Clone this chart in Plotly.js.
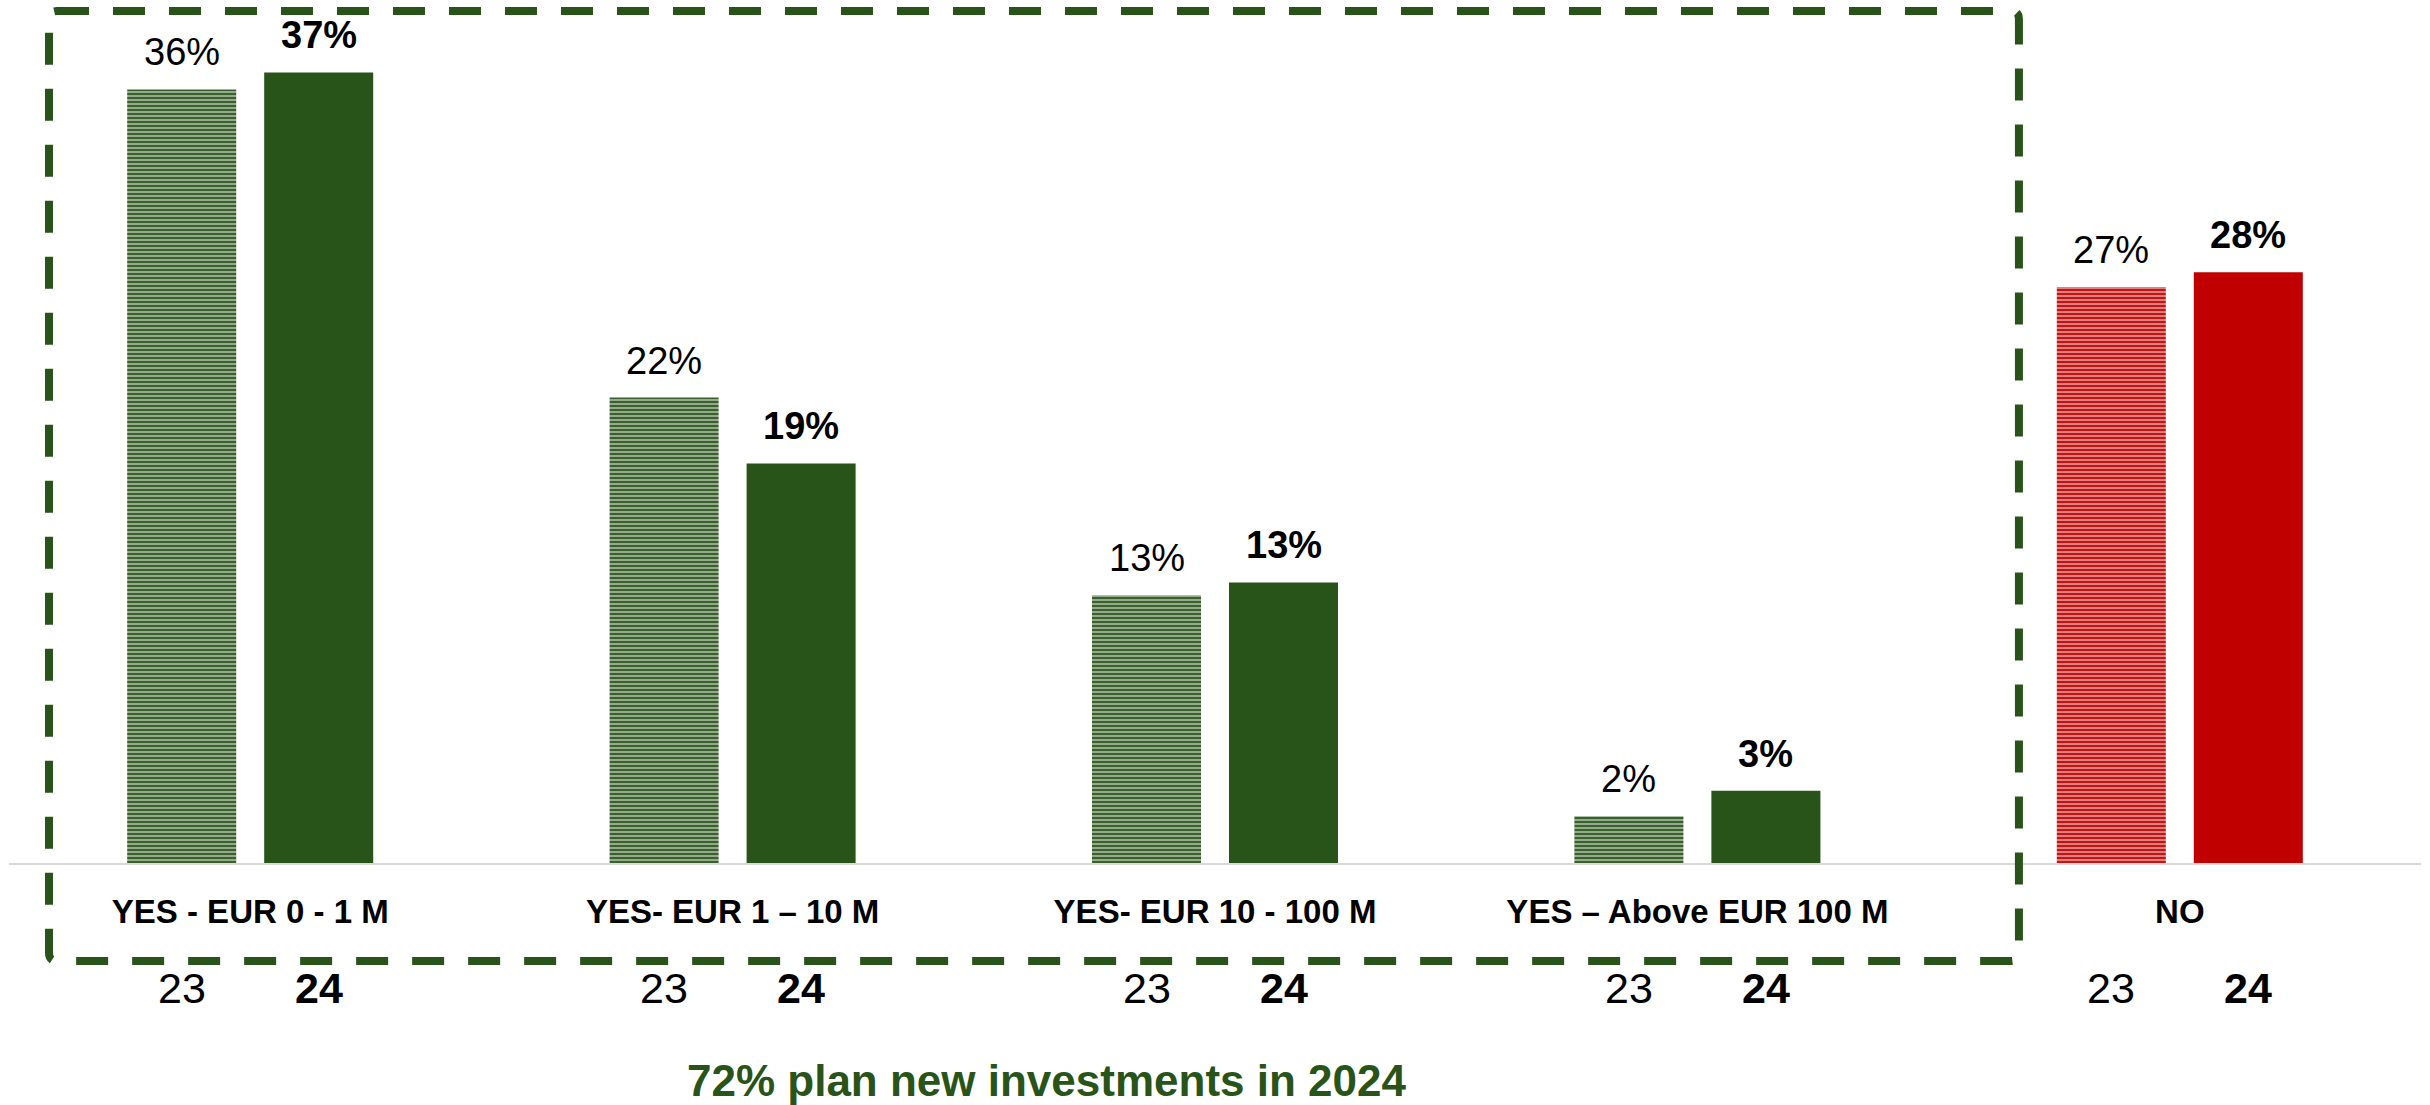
<!DOCTYPE html>
<html>
<head>
<meta charset="utf-8">
<script src="https://cdn.plot.ly/plotly-3.0.1.min.js"></script>
<style>html,body{margin:0;padding:0;background:#fff;}#chart{width:2430px;height:1105px;}</style>
</head>
<body>
<div id="chart"></div>
<script>
// ---- data ----
const categories = ['YES - EUR 0 - 1 M', 'YES- EUR 1 – 10 M', 'YES- EUR 10 - 100 M', 'YES – Above EUR 100 M', 'NO'];
const values2023 = [36.4, 21.9, 12.6, 2.2, 27.1];
const values2024 = [37.2, 18.8, 13.2, 3.4, 27.8];
const yearLabels = ['23', '24'];
const footnote = '72% plan new investments in 2024';

// ---- style ----
const GREEN = '#295419';
const RED = '#C00000';
const FONT = 'Liberation Sans, Arial, sans-serif';
const barColors = categories.map(c => c === 'NO' ? RED : GREEN);
const xIdx = categories.map((c, i) => i);
const W = 0.226, OFF23 = -0.255, OFF24 = 0.029;

const traces = [
  {
    type: 'bar', name: '2023', x: xIdx, y: values2023,
    offset: OFF23, width: W,
    marker: {
      color: barColors, line: {width: 0},
      pattern: {shape: '-', fgcolor: barColors, bgcolor: '#ffffff', size: 4, solidity: 0.58, fillmode: 'overlay'}
    },
    hoverinfo: 'skip'
  },
  {
    type: 'bar', name: '2024', x: xIdx, y: values2024,
    offset: OFF24, width: W,
    marker: {color: barColors, line: {width: 0}},
    hoverinfo: 'skip'
  }
];

const annotations = [];
xIdx.forEach(i => {
  const c23 = i + OFF23 + W / 2, c24 = i + OFF24 + W / 2;
  annotations.push({x: c23, y: values2023[i], xref: 'x', yref: 'y', yanchor: 'bottom', yshift: 14, showarrow: false,
    text: Math.round(values2023[i]) + '%', font: {family: FONT, size: 38, color: '#000'}});
  annotations.push({x: c24, y: values2024[i], xref: 'x', yref: 'y', yanchor: 'bottom', yshift: 14, showarrow: false,
    text: '<b>' + Math.round(values2024[i]) + '%</b>', font: {family: FONT, size: 38, color: '#000'}});
  annotations.push({x: c23, y: 0, xref: 'x', yref: 'paper', yanchor: 'middle', yshift: -125, showarrow: false,
    text: yearLabels[0], font: {family: FONT, size: 43, color: '#000'}});
  annotations.push({x: c24, y: 0, xref: 'x', yref: 'paper', yanchor: 'middle', yshift: -125, showarrow: false,
    text: '<b>' + yearLabels[1] + '</b>', font: {family: FONT, size: 43, color: '#000'}});
});
annotations.push({x: 0.43, y: 0, xref: 'paper', yref: 'paper', yanchor: 'middle', yshift: -217, showarrow: false,
  text: '<b>' + footnote + '</b>', font: {family: FONT, size: 44, color: GREEN}});

// rounded dashed box (paper coords)
const bx0 = 0.01658, bx1 = 0.8333, by0 = -0.1149, by1 = 0.9988, rx = 8 / 2412, ry = 8 / 853;
const boxPath = `M ${bx0 + rx},${by1} L ${bx1 - rx},${by1} Q ${bx1},${by1} ${bx1},${by1 - ry} ` +
  `L ${bx1},${by0 + ry} Q ${bx1},${by0} ${bx1 - rx},${by0} L ${bx0 + rx},${by0} Q ${bx0},${by0} ${bx0},${by0 + ry} ` +
  `L ${bx0},${by1 - ry} Q ${bx0},${by1} ${bx0 + rx},${by1} Z`;

const layout = {
  width: 2430, height: 1105,
  margin: {l: 9, r: 9, t: 10, b: 242, pad: 0},
  paper_bgcolor: '#ffffff', plot_bgcolor: '#ffffff',
  showlegend: false,
  barmode: 'overlay',
  xaxis: {
    range: [-0.5, 4.5], tickvals: xIdx, ticktext: categories,
    showgrid: false, zeroline: false, showline: true, linecolor: '#d9d9d9', linewidth: 2,
    ticks: '', ticklabelstandoff: 18,
    tickfont: {family: FONT, size: 33, color: '#000', weight: 'bold'},
    fixedrange: true
  },
  yaxis: {range: [0, 40.14], visible: false, showgrid: false, zeroline: false, fixedrange: true},
  annotations: annotations,
  shapes: [{type: 'path', xref: 'paper', yref: 'paper', path: boxPath,
    line: {color: GREEN, width: 8, dash: '32px,24px'}, fillcolor: 'rgba(0,0,0,0)', layer: 'above'}]
};

Plotly.newPlot('chart', traces, layout, {displayModeBar: false, staticPlot: true});
</script>
</body>
</html>
